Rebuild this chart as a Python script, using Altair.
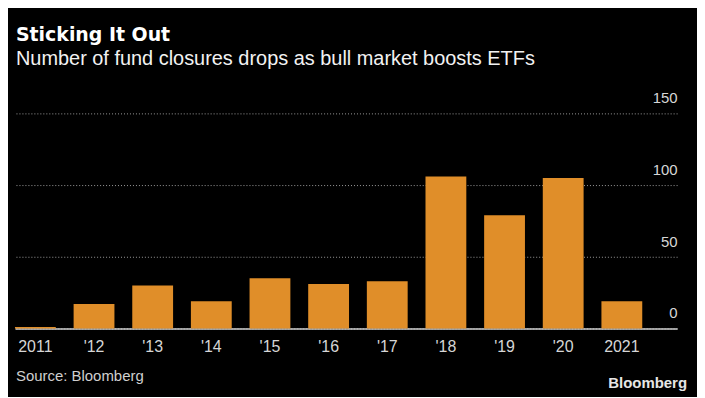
import altair as alt
import pandas as pd

years = ["2011", "'12", "'13", "'14", "'15", "'16", "'17", "'18", "'19", "'20", "2021"]
closures = [1, 17, 30, 19, 35, 31, 33, 106, 79, 105, 19]
y_ticks = [0, 50, 100, 150]
title_text = "Sticking It Out"
subtitle_text = "Number of fund closures drops as bull market boosts ETFs"
source_text = ["Source: Bloomberg"]
logo_text = ["Bloomberg"]

df = pd.DataFrame({"year": years, "closures": closures})

bars = alt.Chart(df).mark_bar(color="#e08e29").encode(
    x=alt.X(
        "year:N",
        sort=None,
        scale=alt.Scale(paddingInner=0.304, paddingOuter=0.297, align=0),
        axis=alt.Axis(
            title=None, labelAngle=0, ticks=False, labelPadding=10,
            labelFontSize=16, labelFont="Liberation Sans", labelColor="#d6d6d6",
            domainColor="#cfcfcf", domainWidth=1.5, grid=False,
        ),
    ),
    y=alt.Y(
        "closures:Q",
        scale=alt.Scale(domain=[0, 150]),
        axis=alt.Axis(
            title=None, orient="right", values=y_ticks, ticks=False, domain=False,
            labelAlign="right", labelBaseline="alphabetic", labelOffset=-10.5,
            labelPadding=0, labelFontSize=15, labelFont="Liberation Sans",
            labelColor="#d6d6d6", gridColor="#9a9a9a", gridDash=[1, 2], gridWidth=1,
        ),
    ),
)

source = alt.Chart(pd.DataFrame({"t": source_text})).mark_text(
    align="left", baseline="alphabetic", font="Liberation Sans", fontSize=15, color="#cfcfcf"
).encode(text="t:N", x=alt.value(1), y=alt.value(269.2))

logo = alt.Chart(pd.DataFrame({"t": logo_text})).mark_text(
    align="right", baseline="alphabetic", font="Liberation Sans", fontSize=15,
    fontWeight="bold", color="#e6e6e6"
).encode(text="t:N", x=alt.value(675), y=alt.value(275.8))

chart = alt.layer(bars, source, logo).properties(
    width=665,
    height=216,
    background="#000000",
    padding={"left": 7, "top": 17, "right": 10, "bottom": 5},
    title=alt.TitleParams(
        text=title_text, subtitle=subtitle_text, anchor="start",
        font="DejaVu Sans", fontSize=19, fontWeight="bold", color="#ffffff",
        subtitleFont="Liberation Sans", subtitleFontSize=20, subtitleColor="#f2f2f2",
        subtitlePadding=4, offset=22, dx=1,
    ),
).configure_view(stroke=None)

chart.save("out.html", embed_options={"renderer": "svg", "actions": False})
